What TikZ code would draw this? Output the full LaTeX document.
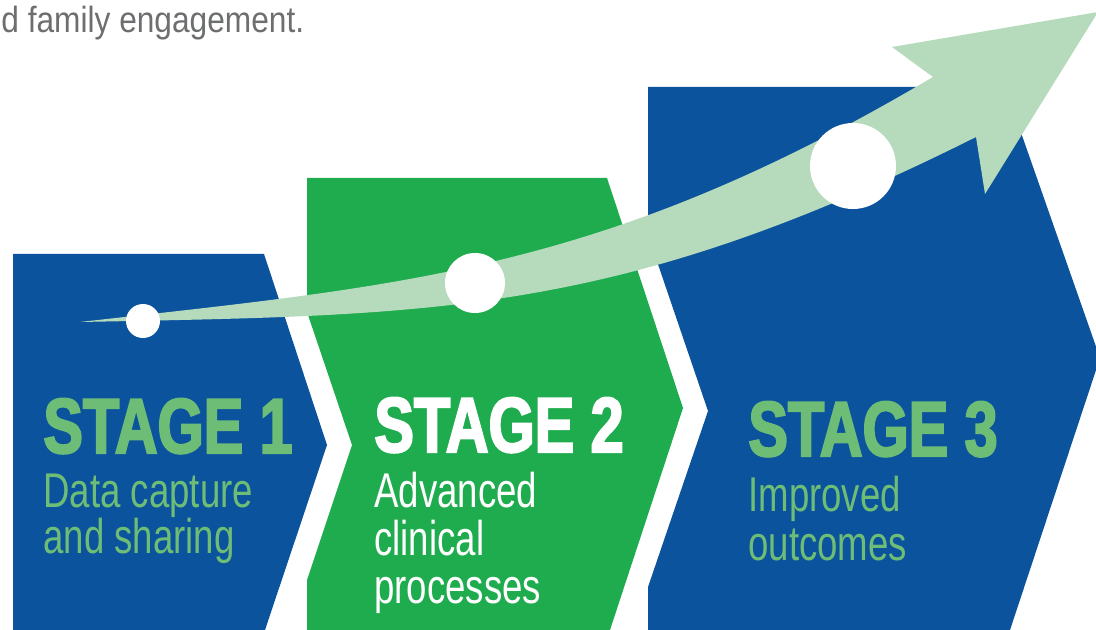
\documentclass[tikz,border=0pt]{standalone}
\usepackage{fontspec}
\setmainfont{Liberation Sans}
\newfontfamily\headfont{Liberation Sans}[FakeStretch=0.87]
\newfontfamily\stagefont{Liberation Sans}[FakeStretch=0.76,BoldFeatures={FakeBold=2.6}]
\newfontfamily\descfont{Liberation Sans}[FakeStretch=0.75]
\definecolor{stageblue}{HTML}{0B539C}
\definecolor{stagegreen}{HTML}{1FAC4F}
\definecolor{bandgreen}{HTML}{B6DBBC}
\definecolor{textgreen}{HTML}{6DBD77}
\definecolor{headgray}{HTML}{6D6E70}
\begin{document}
\begin{tikzpicture}[x=0.5pt,y=-0.5pt,
    stagetitle/.style={anchor=base west,inner sep=0pt,font=\stagefont\bfseries\fontsize{39}{39}\selectfont},
    stagetext/.style={anchor=base west,inner sep=0pt,font=\descfont\fontsize{24.4}{24.4}\selectfont},
    dot/.style={circle,fill=white,inner sep=0pt}]
  \path[use as bounding box,clip] (0,0) rectangle (1096,630);
  % chevrons
  \fill[stageblue] (13,254) -- (264,254) -- (327,445) -- (265,630) -- (13,630) -- cycle;
  \fill[stagegreen] (307,178) -- (607,178) -- (683,408) -- (610,630) -- (307,630)
    -- (307,580) -- (352,445) -- (307,312) -- cycle;
  \fill[stageblue] (648,87) -- (1005,87) -- (1100,358) -- (1010,630) -- (648,630)
    -- (648,587) -- (708,411) -- (648,235) -- cycle;
  % rising arrow
  \fill[bandgreen] (80,322) .. controls (408,285) and (605,271) .. (933,77)
    -- (892,47) -- (1098,12) -- (985,194) -- (976,137)
    .. controls (618,316) and (438,315) .. (80,322) -- cycle;
  \node[dot,minimum size=17pt] (d1) at (143,321) {};
  \node[dot,minimum size=30pt] (d2) at (475,283) {};
  \node[dot,minimum size=43pt] (d3) at (853,166) {};
  % labels
  \node[anchor=base west,inner sep=0pt,text=headgray,font=\headfont\fontsize{18.2}{18.2}\selectfont]
    (head) at (1,33) {d family engagement.};
  \node[stagetitle,text=textgreen] (s1) at (43,453) {STAGE 1};
  \node[stagetext,text=textgreen] (s1a) at (43,507) {Data capture};
  \node[stagetext,text=textgreen] (s1b) at (43,553) {and sharing};
  \node[stagetitle,text=white] (s2) at (374,452) {STAGE 2};
  \node[stagetext,text=white] (s2a) at (374,507) {Advanced};
  \node[stagetext,text=white] (s2b) at (374,555) {clinical};
  \node[stagetext,text=white] (s2c) at (374,603) {processes};
  \node[stagetitle,text=textgreen] (s3) at (748,456) {STAGE 3};
  \node[stagetext,text=textgreen] (s3a) at (748,511) {Improved};
  \node[stagetext,text=textgreen] (s3b) at (748,560) {outcomes};
\end{tikzpicture}
\end{document}
